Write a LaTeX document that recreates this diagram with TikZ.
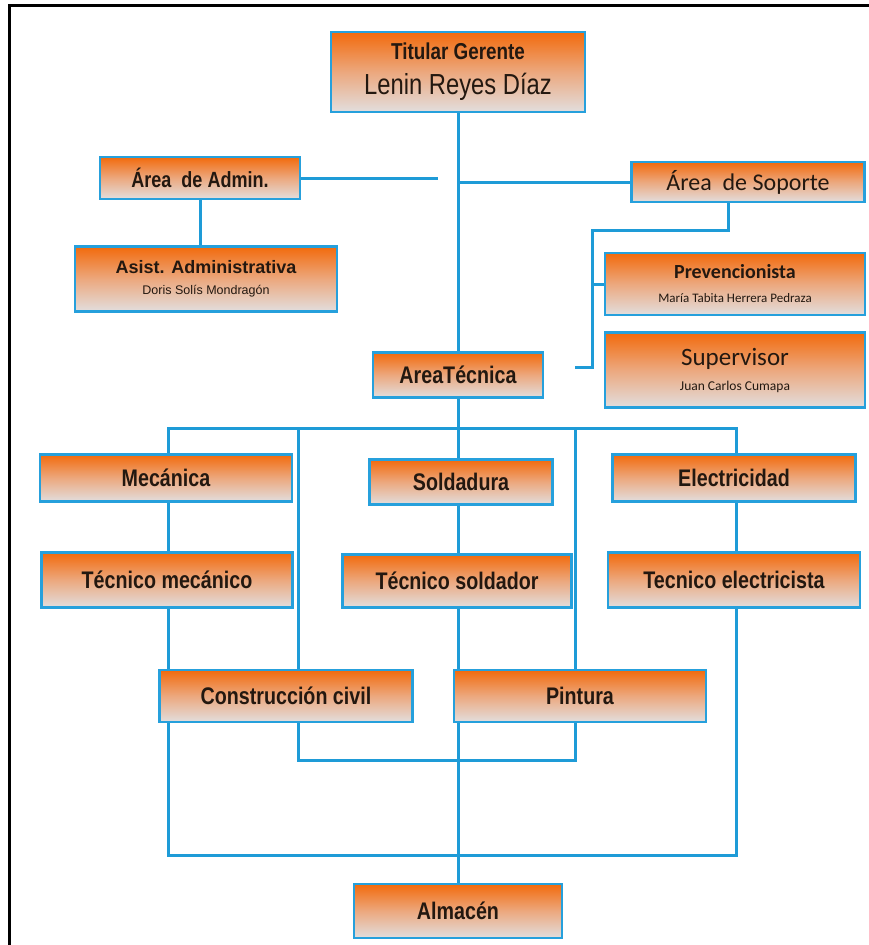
\documentclass[tikz,border=0pt]{standalone}
\usepackage{fontspec}
\setmainfont{Liberation Sans}
\newfontfamily\narrowfont{Liberation Sans}[FakeStretch=0.82]
\newfontfamily\calfont{Carlito}
\usetikzlibrary{backgrounds}
\definecolor{boxorange}{RGB}{242,106,12}
\definecolor{boxmid}{RGB}{236,168,126}
\definecolor{boxlow}{RGB}{226,222,222}
\definecolor{boxedge}{RGB}{38,160,220}
\definecolor{linkblue}{RGB}{30,155,215}
\definecolor{inkdark}{RGB}{35,24,16}
\tikzset{
  orange box/.style={
    top color=boxorange,
    bottom color=boxlow,
    middle color=boxmid,
    draw=boxedge,
    line width=2.4pt,
    text=inkdark,
    inner sep=0pt,
    align=center,
    minimum width={#1pt},
    minimum height={47pt},
  },
  area label/.style={
    font=\fontsize{24}{26}\selectfont\narrowfont\bfseries,
  },
  link/.style={
    draw=linkblue,
    line width=3pt,
  }
}

\begin{document}
\begin{tikzpicture}[x=1pt,y=-1pt]
        \useasboundingbox (0,0) rectangle (869,945);
        \draw [line width=2.2pt] (9.5,945) -- (9.5,5.5) -- (869,5.5);

        \node [orange box=254, minimum height=80pt, font=\fontsize{23}{35}\selectfont\narrowfont] (tit) at (458,72)
          {{\bfseries Titular Gerente}\\{\fontsize{29}{30}\selectfont Lenin Reyes Díaz}};
        \node [orange box=200, minimum height=42pt, font=\fontsize{22}{24}\selectfont\narrowfont\bfseries] (adm) at (200,178) {Área\ \ de Admin.};
        \node [orange box=262, minimum height=65pt, font=\fontsize{18}{21}\selectfont] (asis) at (206,279)
          {{\bfseries Asist. Administrativa}\\{\fontsize{12.5}{14}\selectfont Doris Solís Mondragón}};
        \node [orange box=233, minimum height=40pt, font=\fontsize{24}{26}\selectfont\calfont] (sop) at (748,182) {Área\ \ de Soporte};
        \node [orange box=260, minimum height=62pt, font=\fontsize{20}{24}\selectfont\calfont] (prev) at (735,284)
          {{\bfseries Prevencionista}\\{\fontsize{13}{14}\selectfont María Tabita Herrera Pedraza}};
        \node [orange box=260, minimum height=75pt, font=\fontsize{25}{25}\selectfont\calfont] (sup) at (735,370)
          {Supervisor\\{\fontsize{13.5}{14}\selectfont Juan Carlos Cumapa}};
        \node [orange box=170, minimum height=45pt, area label] (tec) at (458,375) {AreaTécnica};

        \node [orange box=252, area label] (mec) at (166,478) {Mecánica};
        \node [orange box=183, minimum height=45pt, area label] (sol) at (461,482) {Soldadura};
        \node [orange box=243, area label] (ele) at (734,478) {Electricidad};
        \node [orange box=251, minimum height=55pt, area label] (tmec) at (167,580) {Técnico mecánico};
        \node [orange box=229, minimum height=53pt, area label] (tsol) at (457,581) {Técnico soldador};
        \node [orange box=252, minimum height=55pt, area label] (tele) at (734,580) {Tecnico electricista};
        \node [orange box=253, minimum height=52pt, area label] (civ) at (286,696) {Construcción civil};
        \node [orange box=252, minimum height=52pt, area label] (pin) at (580,696) {Pintura};
        \node [orange box=208, minimum height=54pt, area label] (alm) at (458,911) {Almacén};

        \coordinate (admEnd) at (438,178);
        \coordinate (supBend) at (592,230);
        \coordinate (supEnd) at (575,367);
        \coordinate (barL) at (168,428);
        \coordinate (loopR) at (736,855);
        \coordinate (barM) at (298,428);
        \coordinate (innerR) at (575,760);

        \begin{scope}[on background layer]
          \draw [link] (tit) -- (alm);
          \draw [link] (adm.east) -- (admEnd);
          \draw [link] (adm) -- (adm |- asis.north);
          \draw [link] (tit |- sop.west) -- (sop.west);
          \draw [link] ([xshift=-20pt]sop.south) |- (supBend) |- (supEnd);
          \draw [link] (supBend |- prev.west) -- (prev.west);
          \draw [link] (barL) rectangle (loopR);
          \draw [link] (barM) rectangle (innerR);
        \end{scope}
      \end{tikzpicture}
\end{document}
